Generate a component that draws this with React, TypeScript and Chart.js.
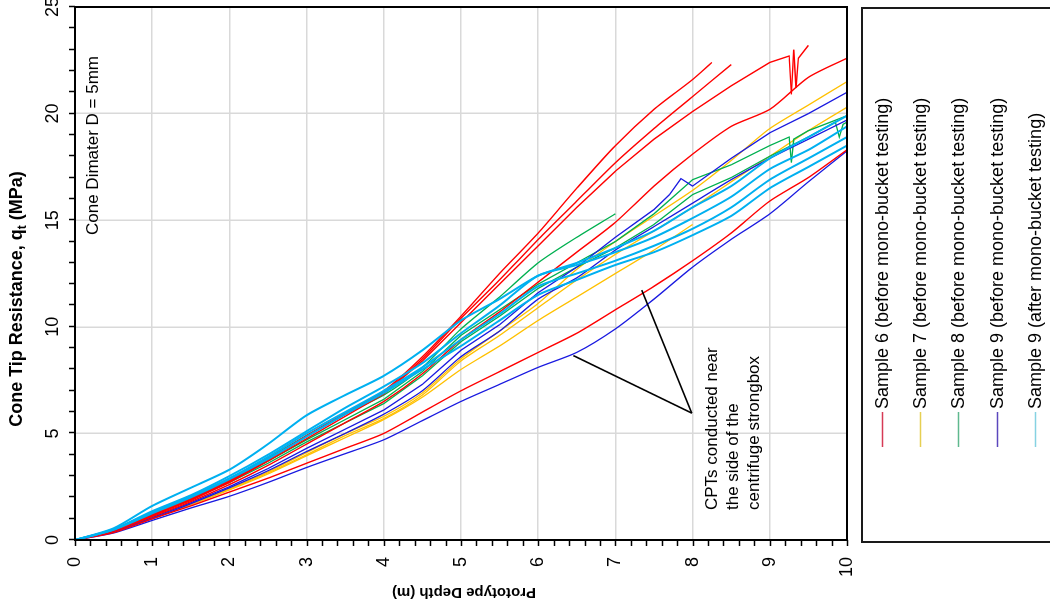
import React, { useEffect, useRef } from 'react';
import { Chart, registerables } from 'chart.js';

Chart.register(...registerables);

const FONT = "'Liberation Sans', Arial, Helvetica, sans-serif";

// ---------------- data ----------------
const SAMPLE_NAMES = [
  'Sample 6 (before mono-bucket testing)',
  'Sample 7 (before mono-bucket testing)',
  'Sample 8 (before mono-bucket testing)',
  'Sample 9 (before mono-bucket testing)',
  'Sample 9 (after mono-bucket testing)',
];
const SAMPLE_COLORS = ['#ff0000', '#ffc000', '#00b050', '#1a1ae0', '#00b0f0'];
const LEGEND_COLORS = ['#d63a56', '#e6cf52', '#5fb98e', '#5b47bd', '#86d2e2'];
const SAMPLE_ORDER = [1, 4, 3, 2, 0];
const SAMPLE_WIDTHS = [1.4, 1.3, 1.3, 1.3, 2.0];

const QT_TICKS = [0, 5, 10, 15, 20, 25];
const DEPTH_TICKS = [0, 1, 2, 3, 4, 5, 6, 7, 8, 9, 10];
const QT_MINOR_STEP = 1;
const DEPTH_MINOR_STEP = 0.2;

// depth (m) at which the qt (MPa) readings below are listed
const STEP_DEPTHS = [0, 0.5, 1, 1.5, 2, 2.5, 3, 3.5, 4, 4.5, 5, 5.5, 6, 6.5, 7, 7.5, 8, 8.5, 9, 9.5, 10];

type Pair = [number, number]; // [depth (m), qt (MPa)]

// Sample 6 (red)
const S6_A_QT = [0, 0.45, 1.2, 1.95, 2.8, 3.8, 4.9, 5.95, 7.0, 8.6, 10.5, 12.5, 14.4, 16.5, 18.5, 20.2, 21.6];
const S6_A_TAIL: Pair[] = [[8.25, 22.4]];
const S6_B_QT = [0, 0.45, 1.15, 1.9, 2.75, 3.75, 4.85, 5.9, 6.95, 8.5, 10.4, 12.2, 14.1, 15.9, 17.7, 19.3, 20.8, 22.3];
const S6_C_QT = [0, 0.45, 1.15, 1.85, 2.7, 3.7, 4.75, 5.8, 6.85, 8.4, 10.2, 12.0, 13.8, 15.6, 17.3, 18.8, 20.1, 21.3, 22.4];
const S6_C_TAIL: Pair[] = [[9.25, 22.7], [9.28, 20.9], [9.31, 23.0], [9.34, 21.2], [9.37, 22.6], [9.5, 23.2]];
const S6_D_QT = [0, 0.42, 1.1, 1.8, 2.6, 3.5, 4.5, 5.5, 6.5, 7.8, 9.4, 10.7, 12.1, 13.5, 14.9, 16.6, 18.1, 19.4, 20.2, 21.7, 22.6];
const S6_E_QT = [0, 0.35, 1.0, 1.6, 2.25, 2.9, 3.6, 4.3, 5.0, 6.0, 7.0, 7.9, 8.8, 9.7, 10.8, 11.9, 13.1, 14.4, 15.9, 17.0, 18.3];

// Sample 7 (yellow)
const S7_A_QT = [0, 0.42, 1.05, 1.7, 2.4, 3.2, 4.1, 5.0, 5.8, 6.9, 8.5, 9.8, 11.1, 12.7, 14.0, 15.2, 16.4, 17.8, 19.3, 20.4, 21.5];
const S7_B_QT = [0, 0.42, 1.05, 1.7, 2.4, 3.15, 4.0, 4.9, 5.7, 6.8, 8.4, 9.6, 10.9, 12.2, 13.4, 14.5, 15.6, 16.8, 18.0, 19.2, 20.3];
const S7_C_QT = [0, 0.4, 1.0, 1.65, 2.35, 3.1, 3.95, 4.8, 5.65, 6.7, 8.0, 9.1, 10.3, 11.4, 12.5, 13.6, 14.8];

// Sample 8 (green)
const S8_A_QT = [0, 0.48, 1.25, 2.0, 2.85, 3.85, 4.9, 5.9, 6.8, 8.1, 9.9, 11.4, 13.0, 14.2, 15.3];
const S8_B_QT = [0, 0.45, 1.2, 1.95, 2.75, 3.7, 4.7, 5.65, 6.6, 7.9, 9.6, 10.8, 12.0, 13.0, 14.0, 15.3, 16.9, 17.6, 18.5];
const S8_B_TAIL: Pair[] = [[9.25, 18.9], [9.28, 17.7], [9.31, 18.8], [9.5, 19.2], [10, 19.9]];
const S8_C_QT = [0, 0.45, 1.15, 1.9, 2.7, 3.6, 4.6, 5.5, 6.4, 7.7, 9.3, 10.5, 11.8, 12.8, 13.7, 14.8, 16.2, 17.0, 18.0, 18.9];
const S8_C_TAIL: Pair[] = [[9.85, 19.6], [9.9, 18.9], [9.95, 19.5], [10, 19.6]];

// Sample 9 before (blue)
const S9B_A_QT = [0, 0.4, 1.05, 1.75, 2.5, 3.35, 4.3, 5.2, 6.1, 7.3, 8.9, 10.1, 11.6, 12.8, 14.2, 15.5];
const S9B_A_TAIL: Pair[] = [[7.7, 16.2], [7.85, 16.95], [8.0, 16.6], [8.5, 17.9], [9, 19.1], [9.5, 20.0], [10, 21.0]];
const S9B_B_QT = [0, 0.4, 1.0, 1.7, 2.45, 3.25, 4.15, 5.0, 5.9, 7.0, 8.6, 9.8, 11.3, 12.3, 13.6, 14.7, 15.8, 16.9, 17.9, 18.8, 19.7];
const S9B_C_QT = [0, 0.33, 0.92, 1.5, 2.05, 2.7, 3.4, 4.05, 4.7, 5.6, 6.5, 7.3, 8.1, 8.8, 9.9, 11.3, 12.8, 14.1, 15.3, 16.8, 18.25];

// Sample 9 after (cyan)
const S9A_A_QT = [0, 0.55, 1.6, 2.45, 3.3, 4.5, 5.85, 6.8, 7.7, 8.9, 10.3, 11.3, 12.4, 13.0, 13.7, 14.5, 15.6, 16.6, 17.9, 18.9, 19.9];
const S9A_B_QT = [0, 0.5, 1.35, 2.1, 3.0, 4.0, 5.1, 6.2, 7.2, 8.3, 9.7, 11.0, 12.4, 12.9, 13.5, 14.2, 15.1, 16.1, 17.4, 18.3, 19.4];
const S9A_C_QT = [0, 0.5, 1.3, 2.05, 2.9, 3.9, 5.0, 6.0, 7.0, 8.1, 9.4, 10.6, 11.9, 12.5, 13.1, 13.8, 14.6, 15.6, 16.9, 17.9, 18.9];
const S9A_D_QT = [0, 0.48, 1.25, 2.0, 2.85, 3.8, 4.85, 5.9, 6.9, 8.0, 9.1, 10.3, 11.5, 12.2, 12.9, 13.5, 14.3, 15.2, 16.5, 17.5, 18.5];

// annotations
const ANNOT_DIAMETER = 'Cone Dimater D = 5mm';
const ANNOT_CPT = ['CPTs conducted near', 'the side of the', 'centrifuge strongbox'];
const ARROW_FROM: Pair = [7.99, 5.95];
const ARROW_TO: Pair[] = [[7.34, 11.72], [6.455, 8.65]];

const X_TITLE = ['Cone Tip Resistance, q', 't', ' (MPa)'];
const Y_TITLE = 'Prototype Depth (m)';

const zip = (q: number[], tail: Pair[] = []): Pair[] => [
  ...q.map((v, i) => [STEP_DEPTHS[i], v] as Pair),
  ...tail,
];

const LINES: { sample: number; pts: Pair[]; spiky?: boolean }[] = [
  { sample: 0, pts: zip(S6_A_QT, S6_A_TAIL) },
  { sample: 0, pts: zip(S6_B_QT) },
  { sample: 0, pts: zip(S6_C_QT, S6_C_TAIL), spiky: true },
  { sample: 0, pts: zip(S6_D_QT) },
  { sample: 0, pts: zip(S6_E_QT) },
  { sample: 1, pts: zip(S7_A_QT) },
  { sample: 1, pts: zip(S7_B_QT) },
  { sample: 1, pts: zip(S7_C_QT) },
  { sample: 2, pts: zip(S8_A_QT) },
  { sample: 2, pts: zip(S8_B_QT, S8_B_TAIL), spiky: true },
  { sample: 2, pts: zip(S8_C_QT, S8_C_TAIL), spiky: true },
  { sample: 3, pts: zip(S9B_A_QT, S9B_A_TAIL), spiky: true },
  { sample: 3, pts: zip(S9B_B_QT) },
  { sample: 3, pts: zip(S9B_C_QT) },
  { sample: 4, pts: zip(S9A_A_QT) },
  { sample: 4, pts: zip(S9A_B_QT) },
  { sample: 4, pts: zip(S9A_C_QT) },
  { sample: 4, pts: zip(S9A_D_QT) },
];

// ---------------- decoration plugin ----------------
const decorPlugin = {
  id: 'decor',
  afterDatasetsDraw(chart: any) {
    const { ctx, chartArea: a, scales } = chart;
    const xs = scales.x;
    const ys = scales.y;
    ctx.save();
    ctx.strokeStyle = '#000';
    // arrows
    ctx.lineWidth = 1.6;
    const fx = xs.getPixelForValue(ARROW_FROM[1]);
    const fy = ys.getPixelForValue(ARROW_FROM[0]);
    ARROW_TO.forEach(([d, q]) => {
      ctx.beginPath();
      ctx.moveTo(fx, fy);
      ctx.lineTo(xs.getPixelForValue(q), ys.getPixelForValue(d));
      ctx.stroke();
    });
    // frame
    ctx.lineWidth = 2;
    ctx.strokeRect(a.left, a.top, a.right - a.left, a.bottom - a.top);
    // tick marks
    ctx.lineWidth = 1.5;
    const qMax = QT_TICKS[QT_TICKS.length - 1];
    for (let q = 0; q <= qMax + 1e-9; q += QT_MINOR_STEP) {
      const px = Math.round(xs.getPixelForValue(q)) + 0.5;
      ctx.beginPath();
      ctx.moveTo(px, a.top);
      ctx.lineTo(px, a.top - 6);
      ctx.stroke();
    }
    const dMax = DEPTH_TICKS[DEPTH_TICKS.length - 1];
    const n = Math.round(dMax / DEPTH_MINOR_STEP);
    for (let i = 0; i <= n; i++) {
      const py = Math.round(ys.getPixelForValue(i * DEPTH_MINOR_STEP)) + 0.5;
      ctx.beginPath();
      ctx.moveTo(a.left, py);
      ctx.lineTo(a.left - 6, py);
      ctx.stroke();
    }
    // annotations
    ctx.fillStyle = '#000';
    ctx.font = `17px ${FONT}`;
    ctx.textAlign = 'left';
    ctx.textBaseline = 'alphabetic';
    ctx.fillText(ANNOT_DIAMETER, a.left + 305, a.top + 23);
    ANNOT_CPT.forEach((t, i) => ctx.fillText(t, a.left + 30, a.top + 641.5 + i * 21));
    ctx.restore();
  },
  afterDraw(chart: any) {
    const { ctx, chartArea: a } = chart;
    ctx.save();
    ctx.fillStyle = '#000';
    ctx.textBaseline = 'alphabetic';
    // x (qt) title with subscript
    const big = `bold 18px ${FONT}`;
    const small = `bold 12px ${FONT}`;
    ctx.font = big;
    const w0 = ctx.measureText(X_TITLE[0]).width;
    const w2 = ctx.measureText(X_TITLE[2]).width;
    ctx.font = small;
    const w1 = ctx.measureText(X_TITLE[1]).width;
    const total = w0 + w1 + w2;
    let x = a.left + 241 - total / 2;
    const by = 22;
    ctx.textAlign = 'left';
    ctx.font = big;
    ctx.fillText(X_TITLE[0], x, by);
    x += w0;
    ctx.font = small;
    ctx.fillText(X_TITLE[1], x, by + 4);
    x += w1;
    ctx.font = big;
    ctx.fillText(X_TITLE[2], x, by);
    // y (depth) title
    ctx.save();
    ctx.translate(20, (a.top + a.bottom) / 2 + 3);
    ctx.rotate(-Math.PI / 2);
    ctx.textAlign = 'center';
    ctx.font = `bold 15px ${FONT}`;
    ctx.fillText(Y_TITLE, 0, 0);
    ctx.restore();
    // legend box
    const boxTop = a.bottom + 15;
    ctx.strokeStyle = '#1a1a1a';
    ctx.lineWidth = 2;
    ctx.strokeRect(a.left - 2, boxTop, a.right - a.left + 1, 300);
    ctx.font = `18px ${FONT}`;
    ctx.textBaseline = 'middle';
    SAMPLE_NAMES.forEach((name, i) => {
      const y = Math.round(boxTop + 19.7 + i * 38.3) + 0.5;
      ctx.strokeStyle = LEGEND_COLORS[i];
      ctx.lineWidth = 1.3;
      ctx.beginPath();
      ctx.moveTo(a.left + 93, y);
      ctx.lineTo(a.left + 128, y);
      ctx.stroke();
      ctx.fillStyle = '#000';
      ctx.fillText(name, a.left + 131, y + 1);
    });
    ctx.restore();
  },
};

export default function App() {
  const ref = useRef<HTMLCanvasElement>(null);
  useEffect(() => {
    if (!ref.current) return;
    Chart.defaults.font.family = FONT;
    const datasets = LINES.map((l, i) => ({
      label: `${SAMPLE_NAMES[l.sample]} #${i}`,
      data: l.pts.map(([d, q]) => ({ x: q, y: d })),
      borderColor: SAMPLE_COLORS[l.sample],
      borderWidth: SAMPLE_WIDTHS[l.sample],
      pointRadius: 0,
      fill: false,
      tension: l.spiky ? 0 : 0.25,
      order: SAMPLE_ORDER[l.sample],
    }));
    const chart = new Chart(ref.current, {
      type: 'line',
      data: { datasets },
      plugins: [decorPlugin],
      options: {
        responsive: false,
        animation: false,
        devicePixelRatio: 1,
        layout: { padding: { left: 0, top: 0, right: 39, bottom: 253 } },
        plugins: { legend: { display: false }, tooltip: { enabled: false } },
        scales: {
          x: {
            type: 'linear',
            position: 'top',
            min: QT_TICKS[0],
            max: QT_TICKS[QT_TICKS.length - 1],
            afterBuildTicks: (s: any) => { s.ticks = QT_TICKS.map((v) => ({ value: v })); },
            afterFit: (s: any) => { s.height = 75; },
            grid: { color: '#d9d9d9', lineWidth: 1.5, drawTicks: false },
            border: { display: false },
            ticks: { padding: 11, color: '#000', font: { size: 18 }, maxRotation: 0, minRotation: 0 },
          },
          y: {
            type: 'linear',
            position: 'left',
            reverse: true,
            min: DEPTH_TICKS[0],
            max: DEPTH_TICKS[DEPTH_TICKS.length - 1],
            afterBuildTicks: (s: any) => { s.ticks = DEPTH_TICKS.map((v) => ({ value: v })); },
            afterFit: (s: any) => { s.width = 68; },
            grid: { color: '#d9d9d9', lineWidth: 1.5, drawTicks: false },
            border: { display: false },
            ticks: { padding: 17, color: '#000', font: { size: 18 } },
          },
        },
      } as any,
    });
    return () => chart.destroy();
  }, []);
  return (
    <div style={{ position: 'fixed', left: 0, top: 0, width: 1050, height: 608, overflow: 'hidden', background: '#fff' }}>
      <div
        style={{
          position: 'absolute',
          left: 0,
          top: 0,
          width: 640,
          height: 1100,
          transformOrigin: '0 0',
          transform: 'translateY(608px) rotate(-90deg)',
        }}
      >
        <canvas ref={ref} width={640} height={1100} style={{ display: 'block', width: 640, height: 1100 }} />
      </div>
    </div>
  );
}
